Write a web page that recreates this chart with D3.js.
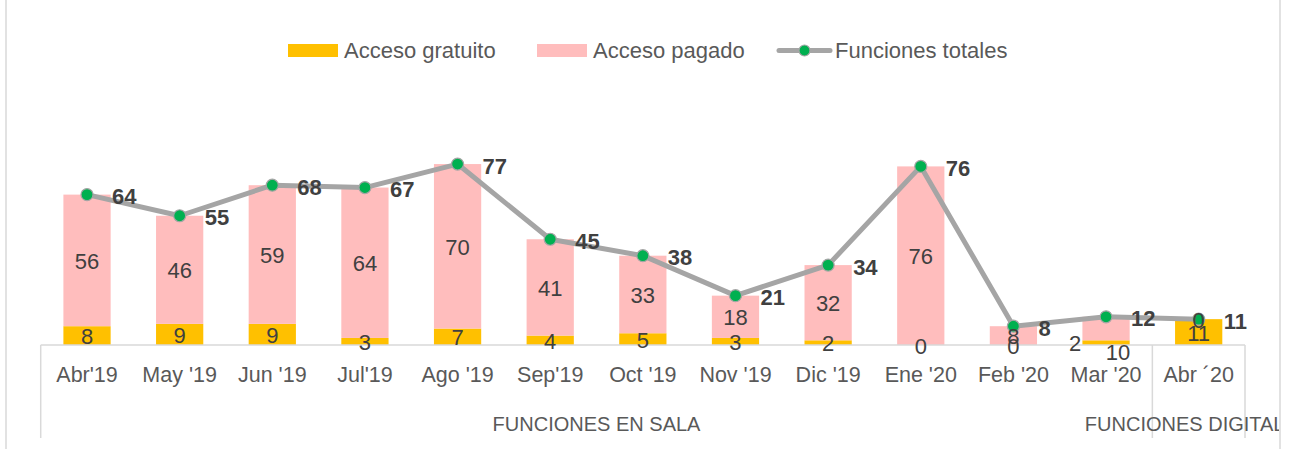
<!DOCTYPE html>
<html>
<head>
<meta charset="utf-8">
<script src="https://cdn.jsdelivr.net/npm/d3@7/dist/d3.min.js"></script>
<style>
  html, body { margin: 0; padding: 0; background: #ffffff; }
  svg { display: block; font-family: "Liberation Sans", Arial, sans-serif; }
</style>
</head>
<body>
<svg id="chart" width="1292" height="449"></svg>
<script>
const categories = ["Abr'19", "May '19", "Jun '19", "Jul'19", "Ago '19", "Sep'19", "Oct '19", "Nov '19", "Dic '19", "Ene '20", "Feb '20", "Mar '20", "Abr ´20"];
const gratuito = [8, 9, 9, 3, 7, 4, 5, 3, 2, 0, 0, 2, 11];
const pagado   = [56, 46, 59, 64, 70, 41, 33, 18, 32, 76, 8, 10, 0];
const totales  = [64, 55, 68, 67, 77, 45, 38, 21, 34, 76, 8, 12, 11];
const groupNames = ["FUNCIONES EN SALA", "FUNCIONES DIGITAL"];
const groupSizes = [12, 1];
const legendLabels = ["Acceso gratuito", "Acceso pagado", "Funciones totales"];

const COL_GRAT = "#FFC000", COL_PAG = "#FFBDBD", COL_LINE = "#A5A5A5", COL_MARK = "#00B050";
const COL_AXIS = "#D9D9D9", COL_TEXT = "#595959", COL_LABEL = "#404040";

const svg = d3.select("#chart");

// chart border
svg.append("rect").attr("x", 6).attr("y", -10).attr("width", 1274).attr("height", 470)
  .attr("fill", "none").attr("stroke", COL_AXIS).attr("stroke-width", 1.5);

const x = d3.scaleBand().domain(categories).range([40.7, 1245]).paddingInner(0.49).paddingOuter(0.245);
const y = d3.scaleLinear().domain([0, 90]).range([345, 133.5]);
const cx = c => x(c) + x.bandwidth() / 2;

// bars
const g = svg.append("g");
g.selectAll("rect.grat").data(categories).join("rect").attr("class", "grat")
  .attr("x", d => x(d)).attr("width", x.bandwidth())
  .attr("y", (d, i) => y(gratuito[i])).attr("height", (d, i) => y(0) - y(gratuito[i]))
  .attr("fill", COL_GRAT);
g.selectAll("rect.pag").data(categories).join("rect").attr("class", "pag")
  .attr("x", d => x(d)).attr("width", x.bandwidth())
  .attr("y", (d, i) => y(gratuito[i] + pagado[i])).attr("height", (d, i) => y(gratuito[i]) - y(gratuito[i] + pagado[i]))
  .attr("fill", COL_PAG);

// axis
const axisG = svg.append("g").attr("transform", "translate(0,345)")
  .call(d3.axisBottom(x).tickSize(0).tickPadding(0));
axisG.select(".domain").remove();
axisG.selectAll("text").attr("y", 37).attr("dy", null)
  .attr("font-size", 21.5).attr("fill", COL_TEXT).attr("font-family", "Liberation Sans, Arial, sans-serif");
svg.append("line").attr("x1", 40.7).attr("x2", 1245).attr("y1", 345).attr("y2", 345)
  .attr("stroke", COL_AXIS).attr("stroke-width", 1.5);

// group level
svg.append("defs").append("clipPath").attr("id", "clipChart")
  .append("rect").attr("x", 6).attr("y", 0).attr("width", 1273).attr("height", 449);
let start = 0;
const bounds = [];
groupSizes.forEach((n, k) => {
  const x0 = x(categories[start]) - x.step() * x.paddingInner() / 2;
  const x1 = x(categories[start + n - 1]) + x.bandwidth() + x.step() * x.paddingInner() / 2;
  bounds.push({ x0, x1, name: groupNames[k], last: k === groupSizes.length - 1 });
  start += n;
});
const sepX = [bounds[0].x0].concat(bounds.map(b => b.x1));
svg.selectAll("line.sep").data(sepX).join("line").attr("class", "sep")
  .attr("x1", d => d).attr("x2", d => d).attr("y1", 345).attr("y2", 438)
  .attr("stroke", COL_AXIS).attr("stroke-width", 1.5);
svg.append("g").attr("clip-path", "url(#clipChart)")
  .selectAll("text").data(bounds).join("text")
  .attr("x", d => (d.x0 + d.x1) / 2 - (d.last ? 14 : 0)).attr("y", 431).attr("text-anchor", "middle")
  .attr("font-size", 20).attr("fill", COL_TEXT).text(d => d.name);

// total line
const line = d3.line().x((d, i) => cx(categories[i])).y(d => y(d));
svg.append("path").datum(totales).attr("d", line)
  .attr("fill", "none").attr("stroke", COL_LINE).attr("stroke-width", 5).attr("stroke-linejoin", "round");
svg.selectAll("circle.pt").data(totales).join("circle").attr("class", "pt")
  .attr("cx", (d, i) => cx(categories[i])).attr("cy", d => y(d)).attr("r", 6)
  .attr("fill", COL_MARK).attr("stroke", COL_LINE).attr("stroke-width", 1.2);

// bar labels (drawn above the line, as in the reference)
const gratOffset = { 11: [-31, 0] };
const pagOffset = { 11: [12, 352] };
const lab = svg.append("g").attr("font-size", 22).attr("fill", COL_LABEL).attr("text-anchor", "middle");
categories.forEach((c, i) => {
  const go = gratOffset[i] || [0, 0];
  lab.append("text").attr("x", cx(c) + go[0])
    .attr("y", (y(0) + y(gratuito[i])) / 2 + 1).attr("dominant-baseline", "central").text(gratuito[i]);
  const po = pagOffset[i];
  const py = po ? po[1] : (y(gratuito[i]) + y(gratuito[i] + pagado[i])) / 2 + 1;
  lab.append("text").attr("x", cx(c) + (po ? po[0] : 0))
    .attr("y", py).attr("dominant-baseline", "central").text(pagado[i]);
});

svg.selectAll("text.tot").data(totales).join("text").attr("class", "tot")
  .attr("x", (d, i) => cx(categories[i]) + 25).attr("y", d => y(d) + 2)
  .attr("dominant-baseline", "central").attr("font-size", 22).attr("font-weight", "bold")
  .attr("fill", COL_LABEL).text(d => d);

// legend
const leg = svg.append("g").attr("font-size", 22).attr("fill", COL_TEXT);
leg.append("rect").attr("x", 288).attr("y", 44).attr("width", 50).attr("height", 13).attr("fill", COL_GRAT);
leg.append("text").attr("x", 344).attr("y", 58).text(legendLabels[0]);
leg.append("rect").attr("x", 537).attr("y", 44).attr("width", 50).attr("height", 13).attr("fill", COL_PAG);
leg.append("text").attr("x", 593).attr("y", 58).text(legendLabels[1]);
leg.append("line").attr("x1", 779).attr("x2", 830).attr("y1", 50.5).attr("y2", 50.5)
  .attr("stroke", COL_LINE).attr("stroke-width", 5).attr("stroke-linecap", "round");
leg.append("circle").attr("cx", 804.5).attr("cy", 50.5).attr("r", 5.5)
  .attr("fill", COL_MARK).attr("stroke", COL_LINE).attr("stroke-width", 1.2);
leg.append("text").attr("x", 835).attr("y", 58).text(legendLabels[2]);
</script>
</body>
</html>
